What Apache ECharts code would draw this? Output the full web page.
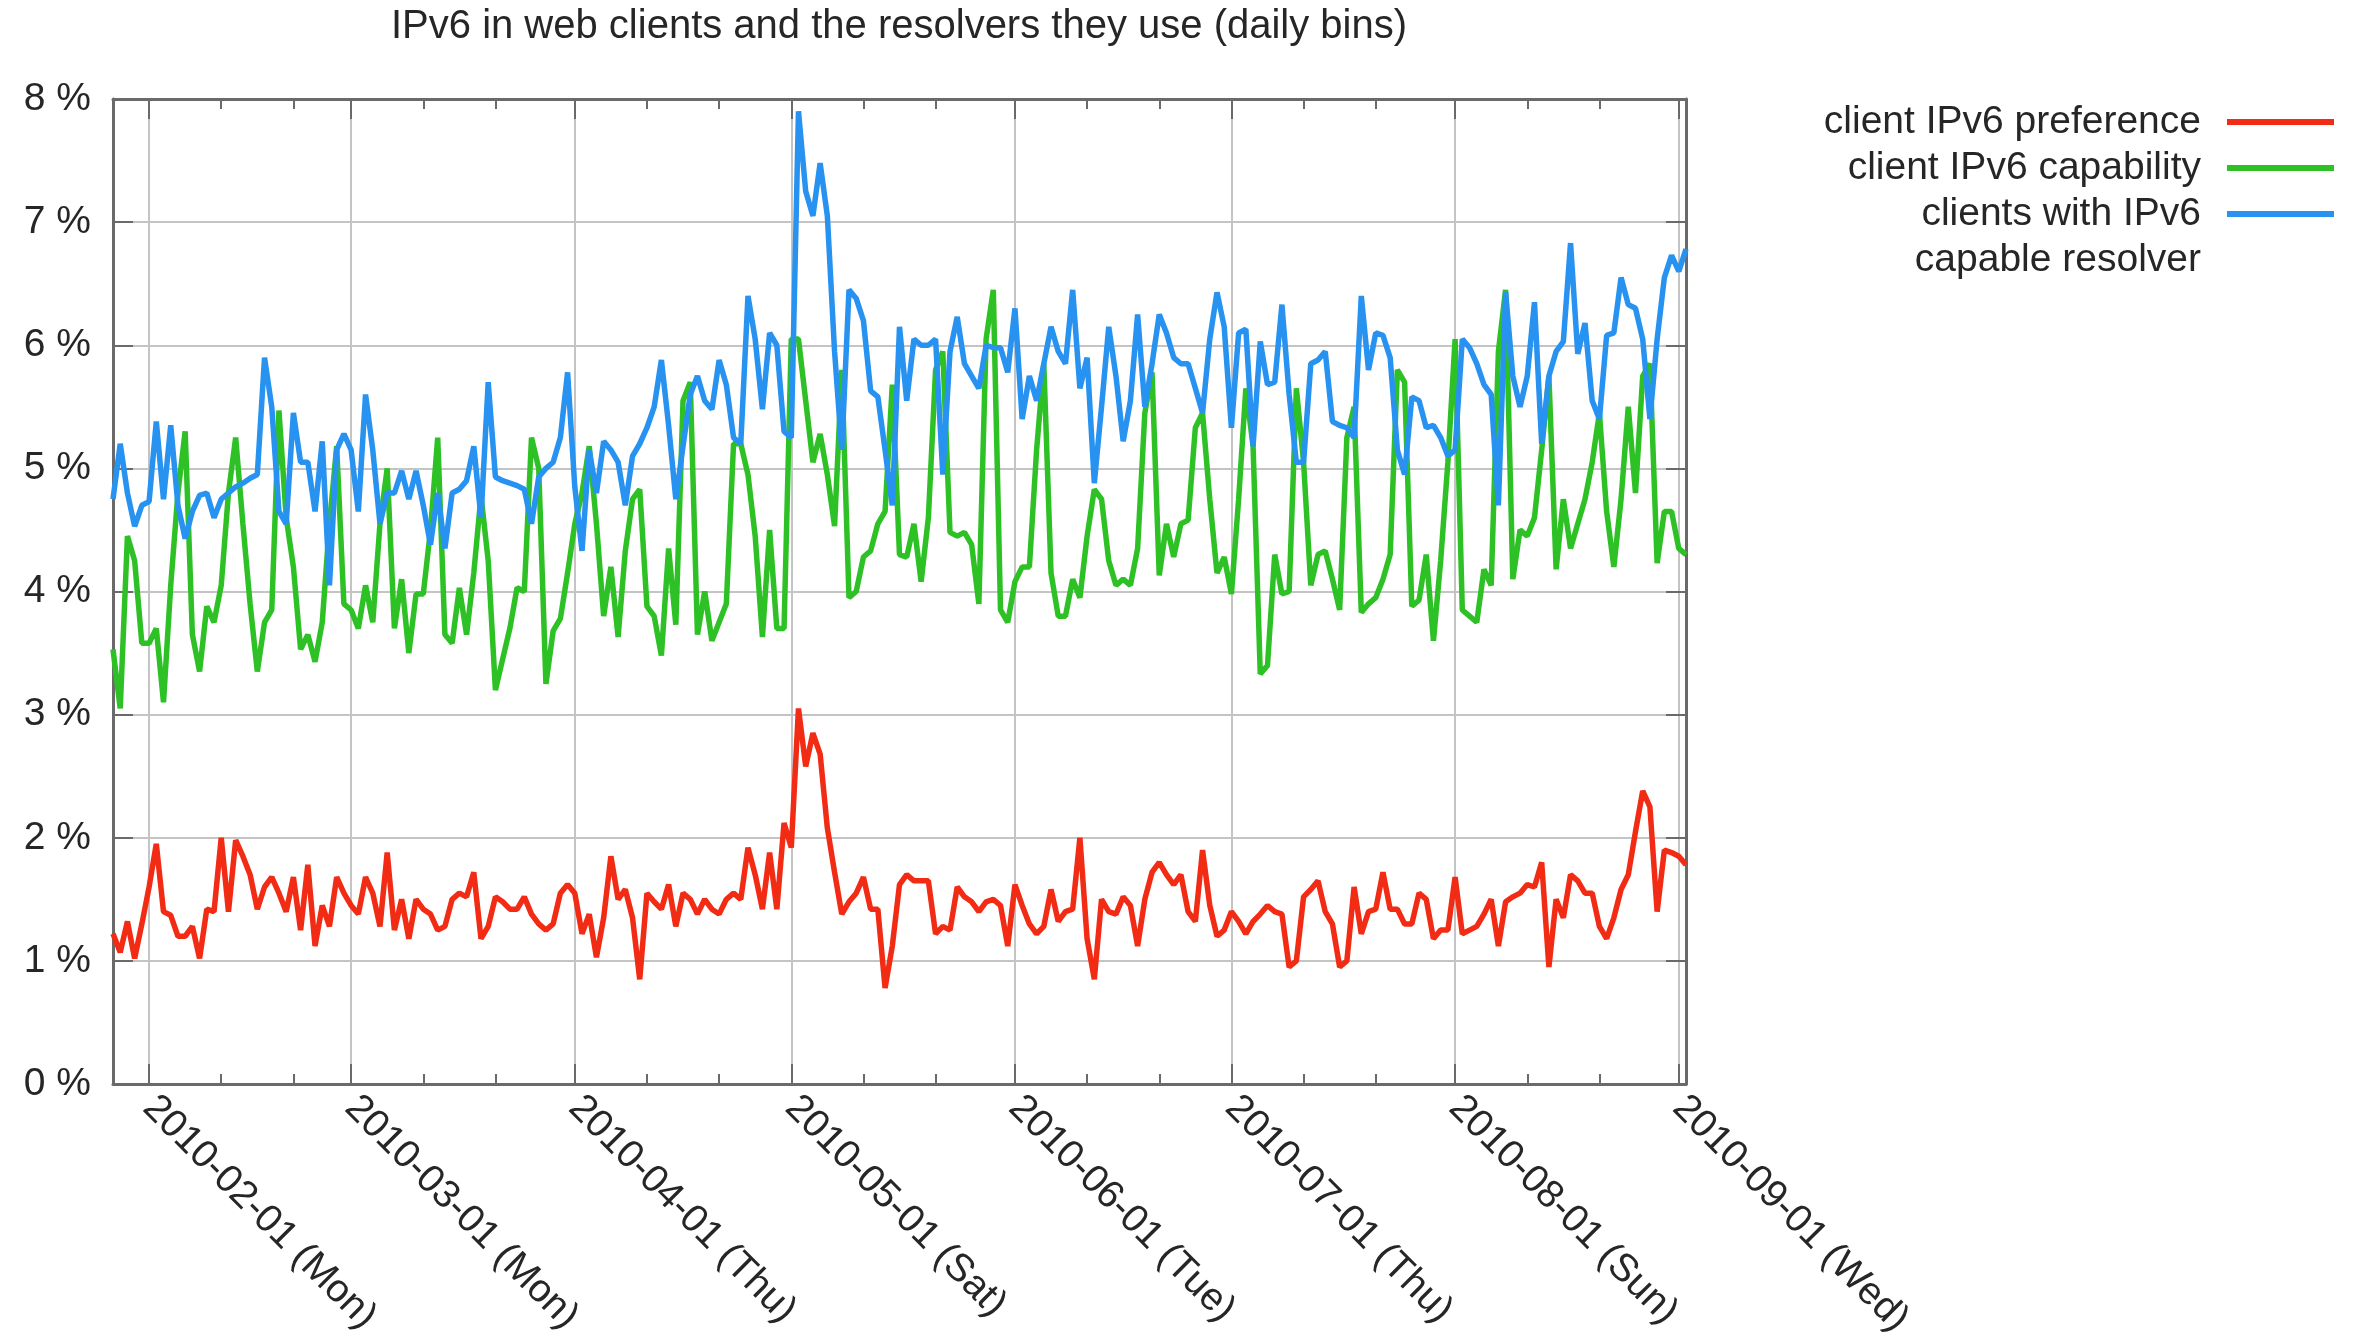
<!DOCTYPE html>
<html>
<head>
<meta charset="utf-8">
<script src="https://cdn.jsdelivr.net/npm/echarts@6/dist/echarts.min.js"></script>
<style>
html,body{margin:0;padding:0;background:#ffffff;}
#chart{width:2358px;height:1342px;}
</style>
</head>
<body>
<div id="chart"></div>
<script>
// ---- data (daily bins, first bin 2010-01-27) ----
const firstDay = [2010, 0, 27];
const lastDay = [2010, 8, 2];
const seriesNames = ['client IPv6 preference', 'client IPv6 capability', 'clients with IPv6 capable resolver'];
const weekdayNames = ['Sun', 'Mon', 'Tue', 'Wed', 'Thu', 'Fri', 'Sat'];
const yTickValues = [0, 1, 2, 3, 4, 5, 6, 7, 8];
const majorTickDates = ['2010-02-01', '2010-03-01', '2010-04-01', '2010-05-01', '2010-06-01', '2010-07-01', '2010-08-01', '2010-09-01'];
const minorTickDates = ['2010-02-11', '2010-02-21', '2010-03-11', '2010-03-21', '2010-04-11', '2010-04-21',
  '2010-05-11', '2010-05-21', '2010-06-11', '2010-06-21', '2010-07-11', '2010-07-21', '2010-08-11', '2010-08-21'];

const preference = [
  1.22, 1.07, 1.32, 1.02, 1.3, 1.6, 1.95, 1.4, 1.37, 1.2,
  1.2, 1.28, 1.02, 1.42, 1.4, 2.0, 1.4, 1.98, 1.85, 1.7,
  1.42, 1.6, 1.68, 1.55, 1.4, 1.68, 1.25, 1.78, 1.12, 1.45,
  1.28, 1.68, 1.55, 1.45, 1.38, 1.68, 1.55, 1.28, 1.88, 1.25,
  1.5, 1.18, 1.5, 1.42, 1.38, 1.25, 1.28, 1.5, 1.55, 1.52,
  1.72, 1.18, 1.28, 1.52, 1.48, 1.42, 1.42, 1.52, 1.38, 1.3,
  1.25, 1.3, 1.55, 1.62, 1.55, 1.22, 1.38, 1.03, 1.35, 1.85,
  1.5, 1.58, 1.35, 0.85, 1.55, 1.48, 1.42, 1.62, 1.28, 1.55,
  1.5, 1.38, 1.5, 1.42, 1.38, 1.5, 1.55, 1.5, 1.92, 1.7,
  1.42, 1.88, 1.42, 2.12, 1.92, 3.05, 2.58, 2.85, 2.68, 2.08,
  1.72, 1.38, 1.48, 1.55, 1.68, 1.42, 1.42, 0.78, 1.12, 1.62,
  1.7, 1.65, 1.65, 1.65, 1.22, 1.28, 1.25, 1.6, 1.52, 1.48,
  1.4, 1.48, 1.5, 1.45, 1.12, 1.62, 1.45, 1.3, 1.22, 1.28,
  1.58, 1.32, 1.4, 1.42, 2.0, 1.18, 0.85, 1.5, 1.4, 1.38,
  1.52, 1.45, 1.12, 1.5, 1.72, 1.8, 1.7, 1.62, 1.7, 1.4,
  1.32, 1.9, 1.45, 1.2, 1.25, 1.4, 1.32, 1.22, 1.32, 1.38,
  1.45, 1.4, 1.38, 0.95, 1.0, 1.52, 1.58, 1.65, 1.4, 1.3,
  0.95, 1.0, 1.6, 1.22, 1.4, 1.42, 1.72, 1.42, 1.42, 1.3,
  1.3, 1.55, 1.5, 1.18, 1.25, 1.25, 1.68, 1.22, 1.25, 1.28,
  1.38, 1.5, 1.12, 1.48, 1.52, 1.55, 1.62, 1.6, 1.8, 0.95,
  1.5, 1.35, 1.7, 1.65, 1.55, 1.55, 1.28, 1.18, 1.35, 1.58,
  1.7, 2.05, 2.38, 2.25, 1.4, 1.9, 1.88, 1.85, 1.78
];

const capability = [
  3.53, 3.05, 4.45, 4.25, 3.58, 3.58, 3.7, 3.1, 4.05, 4.8,
  5.3, 3.65, 3.35, 3.88, 3.75, 4.05, 4.8, 5.25, 4.55, 3.9,
  3.35, 3.75, 3.85, 5.47, 4.6, 4.2, 3.53, 3.65, 3.43, 3.75,
  4.55, 5.18, 3.9, 3.85, 3.7, 4.05, 3.75, 4.55, 5.0, 3.7,
  4.1, 3.5, 3.98, 3.98, 4.5, 5.25, 3.65, 3.58, 4.03, 3.65,
  4.15, 4.78, 4.25, 3.2, 3.45, 3.7, 4.03, 4.0, 5.25, 5.0,
  3.25, 3.68, 3.78, 4.15, 4.55, 4.8, 5.18, 4.55, 3.8, 4.2,
  3.63, 4.33, 4.75, 4.83, 3.88, 3.8, 3.48, 4.35, 3.73, 5.55,
  5.7, 3.65, 4.0, 3.6, 3.75, 3.9, 5.2, 5.2, 4.95, 4.45,
  3.63, 4.5, 3.7, 3.7, 6.05, 6.05, 5.55, 5.05, 5.28, 4.95,
  4.53, 5.8, 3.95, 4.0, 4.28, 4.33, 4.55, 4.65, 5.68, 4.3,
  4.28, 4.55, 4.08, 4.6, 5.8, 5.95, 4.48, 4.45, 4.48, 4.38,
  3.9, 6.05, 6.45, 3.85, 3.75, 4.08, 4.2, 4.2, 5.15, 5.85,
  4.15, 3.8, 3.8, 4.1, 3.95, 4.45, 4.83, 4.75, 4.25, 4.05,
  4.1, 4.05, 4.35, 5.45, 5.78, 4.13, 4.55, 4.28, 4.55, 4.58,
  5.33, 5.45, 4.75, 4.15, 4.28, 3.98, 4.75, 5.65, 5.18, 3.33,
  3.4, 4.3, 3.98, 4.0, 5.65, 5.05, 4.05, 4.3, 4.33, 4.1,
  3.85, 5.25, 5.5, 3.83, 3.9, 3.95, 4.1, 4.3, 5.8, 5.7,
  3.88, 3.93, 4.3, 3.6, 4.25, 5.05, 6.05, 3.85, 3.8, 3.75,
  4.18, 4.05, 5.95, 6.45, 4.1, 4.5, 4.45, 4.6, 5.15, 5.75,
  4.18, 4.75, 4.35, 4.55, 4.75, 5.05, 5.45, 4.65, 4.2, 4.75,
  5.5, 4.8, 5.75, 5.85, 4.23, 4.65, 4.65, 4.35, 4.3
];

const resolver = [
  4.75, 5.2, 4.8, 4.53, 4.7, 4.73, 5.38, 4.75, 5.35, 4.7,
  4.43, 4.65, 4.78, 4.8, 4.6, 4.75, 4.8, 4.85, 4.88, 4.92,
  4.95, 5.9, 5.5, 4.65, 4.55, 5.45, 5.05, 5.05, 4.65, 5.22,
  4.05, 5.15, 5.28, 5.15, 4.65, 5.6, 5.15, 4.55, 4.8, 4.8,
  4.98, 4.75, 4.98, 4.7, 4.38, 4.8, 4.35, 4.8, 4.83, 4.9,
  5.18, 4.6, 5.7, 4.93, 4.9, 4.88, 4.86, 4.83, 4.55, 4.93,
  5.0, 5.05, 5.25, 5.78, 4.85, 4.33, 5.15, 4.8, 5.22, 5.15,
  5.05, 4.7, 5.1, 5.2, 5.33, 5.5, 5.88, 5.35, 4.75, 5.18,
  5.6, 5.75, 5.55, 5.48, 5.88, 5.68, 5.25, 5.2, 6.4, 6.05,
  5.48, 6.1, 6.0, 5.3, 5.25, 7.9, 7.25, 7.05, 7.48, 7.05,
  5.95, 5.15, 6.45, 6.38, 6.2, 5.63, 5.58, 5.15, 4.7, 6.15,
  5.55, 6.05, 6.0, 6.0, 6.05, 4.95, 5.95, 6.23, 5.85, 5.75,
  5.65, 6.0, 5.98, 5.98, 5.78, 6.3, 5.4, 5.75, 5.55, 5.85,
  6.15, 5.95, 5.85, 6.45, 5.65, 5.9, 4.88, 5.5, 6.15, 5.75,
  5.22, 5.55, 6.25, 5.5, 5.85, 6.25, 6.1, 5.9, 5.85, 5.85,
  5.65, 5.45, 6.05, 6.43, 6.15, 5.33, 6.1, 6.13, 5.18, 6.03,
  5.68, 5.7, 6.33, 5.6, 5.05, 5.05, 5.85, 5.88, 5.95, 5.38,
  5.35, 5.33, 5.25, 6.4, 5.8, 6.1, 6.08, 5.9, 5.15, 4.95,
  5.58, 5.55, 5.33, 5.35, 5.25, 5.1, 5.15, 6.05, 5.98, 5.85,
  5.68, 5.6, 4.7, 6.43, 5.75, 5.5, 5.75, 6.35, 5.2, 5.75,
  5.95, 6.03, 6.83, 5.93, 6.18, 5.55, 5.4, 6.08, 6.1, 6.55,
  6.33, 6.3, 6.05, 5.4, 6.05, 6.55, 6.73, 6.6, 6.78
];

// ---- build ----
const dates = preference.map((_, i) => new Date(firstDay[0], firstDay[1], firstDay[2] + i).getTime());
const xMin = new Date(firstDay[0], firstDay[1], firstDay[2]).getTime();
const xMax = new Date(lastDay[0], lastDay[1], lastDay[2]).getTime();
const toTime = s => { const p = s.split('-').map(Number); return new Date(p[0], p[1] - 1, p[2]).getTime(); };
const majorTicks = majorTickDates.map(toTime);
const minorTicks = minorTickDates.map(toTime);
const pairs = arr => arr.map((v, i) => [dates[i], v]);

const FONT = 'Liberation Sans, Arial, Helvetica, sans-serif';
const TXT = '#262626';
const FRAME = '#6a6a6a';
const GRIDC = '#c4c4c4';
const colors = ['#f22b14', '#2ec126', '#2792f0'];

function pad2(n) { return (n < 10 ? '0' : '') + n; }
function dateLabel(val) {
  const d = new Date(val);
  return d.getFullYear() + '-' + pad2(d.getMonth() + 1) + '-' + pad2(d.getDate()) + ' (' + weekdayNames[d.getDay()] + ')';
}

// tick-only helper axes (plain value axes over the same time span)
function tickAxis(position, values, len, withLine) {
  return {
    type: 'value',
    position: position,
    min: xMin,
    max: xMax,
    axisLine: { show: withLine, onZero: false, lineStyle: { color: FRAME, width: 3 } },
    axisTick: { show: true, inside: true, length: len, customValues: values, lineStyle: { color: FRAME, width: 2 } },
    minorTick: { show: false },
    splitLine: { show: false },
    axisLabel: { show: false }
  };
}

const chart = echarts.init(document.getElementById('chart'), null, { renderer: 'canvas' });
chart.setOption({
  animation: false,
  backgroundColor: '#ffffff',
  color: colors,
  title: {
    text: 'IPv6 in web clients and the resolvers they use (daily bins)',
    left: 899,
    textAlign: 'center',
    top: 7,
    padding: 0,
    textStyle: { fontFamily: FONT, fontSize: 40, fontWeight: 'normal', color: TXT }
  },
  legend: [
    {
      data: [seriesNames[0], seriesNames[1]],
      orient: 'vertical',
      align: 'right',
      right: 24,
      top: 99,
      padding: 0,
      itemGap: 0,
      itemWidth: 107,
      itemHeight: 6,
      icon: 'rect',
      selectedMode: false,
      textStyle: { fontFamily: FONT, fontSize: 39, color: TXT, lineHeight: 46, padding: [0, 21, 0, 0] }
    },
    {
      data: [seriesNames[2]],
      orient: 'vertical',
      align: 'right',
      right: 24,
      top: 145,
      padding: 0,
      itemGap: 0,
      itemWidth: 107,
      itemHeight: 6,
      icon: 'rect',
      selectedMode: false,
      formatter: function () { return ' \nclients with IPv6\ncapable resolver'; },
      textStyle: { fontFamily: FONT, fontSize: 39, color: TXT, lineHeight: 46, padding: [0, 21, 0, 0] }
    }
  ],
  grid: { left: 113, right: 672, top: 99, bottom: 258, containLabel: false },
  xAxis: [
    {
      type: 'time',
      position: 'bottom',
      min: xMin,
      max: xMax,
      minInterval: 28 * 86400000,
      maxInterval: 31 * 86400000,
      axisLine: { show: true, onZero: false, lineStyle: { color: FRAME, width: 3 } },
      axisTick: { show: false },
      minorTick: { show: false },
      splitLine: { show: true, lineStyle: { color: GRIDC, width: 2 } },
      axisLabel: {
        rotate: -45,
        margin: 18,
        fontFamily: FONT,
        fontSize: 39,
        color: TXT,
        formatter: dateLabel
      }
    },
    tickAxis('bottom', majorTicks, 20, false),
    tickAxis('top', majorTicks, 20, true),
    tickAxis('bottom', minorTicks, 10, false),
    tickAxis('top', minorTicks, 10, false)
  ],
  yAxis: [
    {
      type: 'value',
      min: yTickValues[0],
      max: yTickValues[yTickValues.length - 1],
      interval: 1,
      axisLine: { show: true, onZero: false, lineStyle: { color: FRAME, width: 3 } },
      axisTick: { show: true, inside: true, length: 20, lineStyle: { color: FRAME, width: 2 } },
      splitLine: { show: true, lineStyle: { color: GRIDC, width: 2 } },
      axisLabel: { margin: 22, fontFamily: FONT, fontSize: 39, color: TXT, formatter: '{value} %' }
    },
    {
      type: 'value',
      position: 'right',
      min: yTickValues[0],
      max: yTickValues[yTickValues.length - 1],
      interval: 1,
      axisLine: { show: true, onZero: false, lineStyle: { color: FRAME, width: 3 } },
      axisTick: { show: true, inside: true, length: 20, lineStyle: { color: FRAME, width: 2 } },
      splitLine: { show: false },
      axisLabel: { show: false }
    }
  ],
  series: [
    { name: seriesNames[0], type: 'line', xAxisIndex: 0, yAxisIndex: 0, data: pairs(preference), showSymbol: false, symbol: 'none', lineStyle: { width: 5.5, color: colors[0] }, itemStyle: { color: colors[0] } },
    { name: seriesNames[1], type: 'line', xAxisIndex: 0, yAxisIndex: 0, data: pairs(capability), showSymbol: false, symbol: 'none', lineStyle: { width: 5.5, color: colors[1] }, itemStyle: { color: colors[1] } },
    { name: seriesNames[2], type: 'line', xAxisIndex: 0, yAxisIndex: 0, data: pairs(resolver), showSymbol: false, symbol: 'none', lineStyle: { width: 5.5, color: colors[2] }, itemStyle: { color: colors[2] } }
  ]
});
</script>
</body>
</html>
